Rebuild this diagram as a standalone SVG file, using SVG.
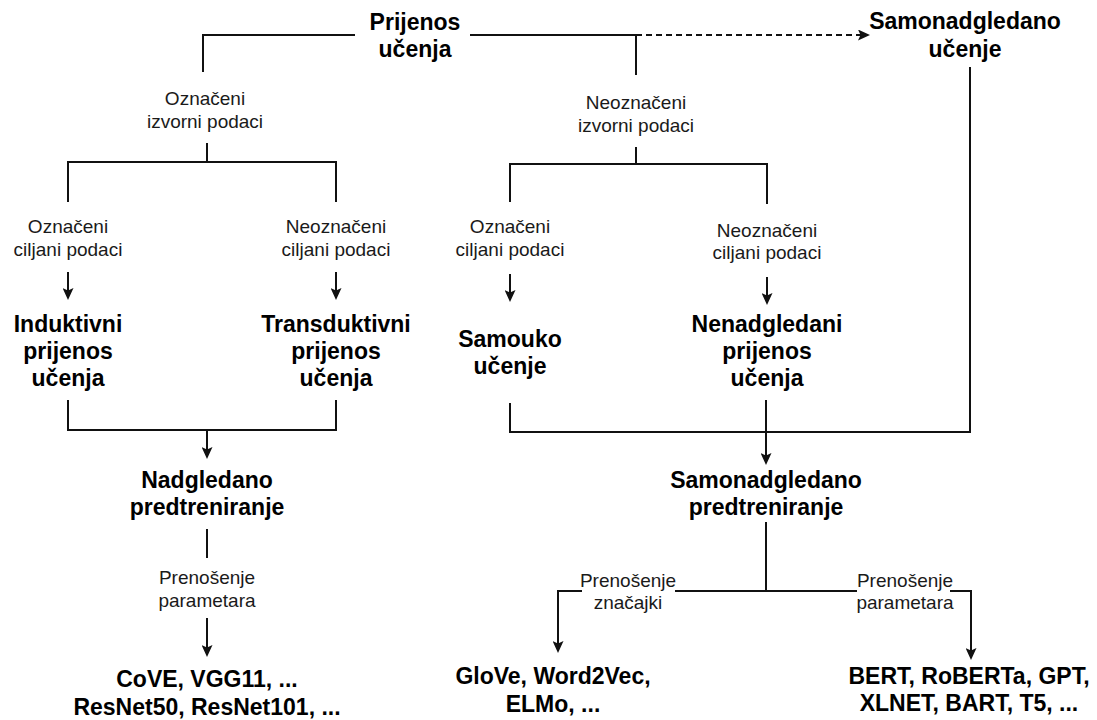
<svg xmlns="http://www.w3.org/2000/svg" width="1097" height="720" viewBox="0 0 1097 720">
  <defs>
    <style>
      .b { font: bold 23px "Liberation Sans", Arial, sans-serif; fill: #000; text-anchor: middle; }
      .r { font: 19px "Liberation Sans", Arial, sans-serif; fill: #1a1a1a; text-anchor: middle; }
      .ln { fill: none; stroke: #111; stroke-width: 2; }
      .ar { marker-end: url(#ah); }
      .dash { stroke-dasharray: 6 4; }
      .bg { fill: #fff; }
    </style>
    <marker id="ah" markerUnits="userSpaceOnUse" markerWidth="12" markerHeight="11" refX="8" refY="5.5" orient="auto">
      <path d="M0,0 L12,5.5 L0,11 L2.5,5.5 z" fill="#111"/>
    </marker>
  </defs>
  <rect width="1097" height="720" fill="#fff"/>

  <!-- connectors and their labels -->
  <g id="connectors">
    <!-- from the root -->
    <path class="ln" d="M355,35 H203 V72"/>
    <path class="ln" d="M470,35 H636 V75"/>
    <path class="ln dash ar" d="M636,35 H866"/>
    <text class="r" x="205" y="105">Označeni</text>
    <text class="r" x="205" y="128">izvorni podaci</text>
    <text class="r" x="636" y="109">Neoznačeni</text>
    <text class="r" x="636" y="132">izvorni podaci</text>

    <!-- labelled source branch -->
    <path class="ln" d="M207,143 V162"/>
    <path class="ln" d="M68,202 V162 H336 V202"/>
    <text class="r" x="68" y="233">Označeni</text>
    <text class="r" x="68" y="256">ciljani podaci</text>
    <text class="r" x="336" y="233">Neoznačeni</text>
    <text class="r" x="336" y="256">ciljani podaci</text>
    <path class="ln ar" d="M68,272 V296"/>
    <path class="ln ar" d="M336,272 V296"/>

    <!-- unlabelled source branch -->
    <path class="ln" d="M636,147 V164"/>
    <path class="ln" d="M510,202 V164 H767 V204"/>
    <text class="r" x="510" y="233">Označeni</text>
    <text class="r" x="510" y="256">ciljani podaci</text>
    <text class="r" x="767" y="237">Neoznačeni</text>
    <text class="r" x="767" y="259">ciljani podaci</text>
    <path class="ln ar" d="M510,274 V298"/>
    <path class="ln ar" d="M767,277 V301"/>

    <!-- merging into pretraining -->
    <path class="ln" d="M68,400 V430 H336 V400"/>
    <path class="ln ar" d="M207,430 V455"/>
    <path class="ln" d="M510,403 V432 H970 V67"/>
    <path class="ln ar" d="M766,400 V461"/>

    <!-- supervised pretraining to models -->
    <path class="ln" d="M207,529 V558"/>
    <text class="r" x="207" y="584">Prenošenje</text>
    <text class="r" x="207" y="607">parametara</text>
    <path class="ln ar" d="M207,618 V653"/>

    <!-- self-supervised pretraining to models -->
    <path class="ln" d="M766,522 V591"/>
    <path class="ln ar" d="M766,591 H558 V649"/>
    <path class="ln ar" d="M766,591 H971 V656"/>
    <rect class="bg" x="582" y="574" width="93" height="22"/>
    <text class="r" x="628" y="587">Prenošenje</text>
    <text class="r" x="628" y="609">značajki</text>
    <rect class="bg" x="857" y="574" width="93" height="22"/>
    <text class="r" x="905" y="587">Prenošenje</text>
    <text class="r" x="905" y="609">parametara</text>
  </g>

  <g id="n-prijenos-ucenja">
    <text class="b" x="415" y="30">Prijenos</text>
    <text class="b" x="415" y="57">učenja</text>
  </g>
  <g id="n-samonadgledano-ucenje">
    <text class="b" x="965" y="29">Samonadgledano</text>
    <text class="b" x="965" y="57">učenje</text>
  </g>
  <g id="n-induktivni">
    <text class="b" x="68" y="332">Induktivni</text>
    <text class="b" x="68" y="359">prijenos</text>
    <text class="b" x="68" y="386">učenja</text>
  </g>
  <g id="n-transduktivni">
    <text class="b" x="336" y="332">Transduktivni</text>
    <text class="b" x="336" y="359">prijenos</text>
    <text class="b" x="336" y="386">učenja</text>
  </g>
  <g id="n-samouko">
    <text class="b" x="510" y="347">Samouko</text>
    <text class="b" x="510" y="374">učenje</text>
  </g>
  <g id="n-nenadgledani">
    <text class="b" x="767" y="332">Nenadgledani</text>
    <text class="b" x="767" y="359">prijenos</text>
    <text class="b" x="767" y="386">učenja</text>
  </g>
  <g id="n-nadgledano-predtreniranje">
    <text class="b" x="207" y="488">Nadgledano</text>
    <text class="b" x="207" y="515">predtreniranje</text>
  </g>
  <g id="n-samonadgledano-predtreniranje">
    <text class="b" x="766" y="488">Samonadgledano</text>
    <text class="b" x="766" y="515">predtreniranje</text>
  </g>
  <g id="n-cove">
    <text class="b" x="207" y="687">CoVE, VGG11, ...</text>
    <text class="b" x="207" y="715">ResNet50, ResNet101, ...</text>
  </g>
  <g id="n-glove">
    <text class="b" x="553" y="684">GloVe, Word2Vec,</text>
    <text class="b" x="553" y="712">ELMo, ...</text>
  </g>
  <g id="n-bert">
    <text class="b" x="969" y="684">BERT, RoBERTa, GPT,</text>
    <text class="b" x="969" y="711">XLNET, BART, T5, ...</text>
  </g>
</svg>
